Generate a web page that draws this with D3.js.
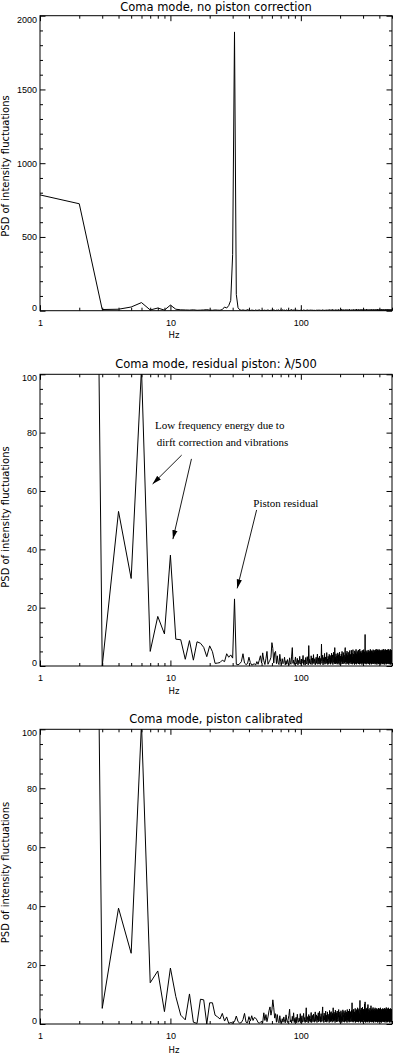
<!DOCTYPE html>
<html>
<head>
<meta charset="utf-8">
<script src="https://cdn.jsdelivr.net/npm/d3@7"></script>
<style>
  body { margin: 0; background: #fff; }
  svg { display: block; background: #fff; }
</style>
</head>
<body>
<svg id="chart" width="393" height="1053"></svg>
<script>
// PSD of intensity fluctuations, one value per 1 Hz bin (first value = 1 Hz)
const psdNoPiston = [
  785, 725, 8, 10, 25, 55, 5, 18, 4, 38,
  10, 6, 5, 4, 6, 3, 4, 5, 7, 4,
  3, 5, 4, 3, 8, 25, 18, 35, 70, 380,
  1890, 110, 20, 6, 3, 5, 3, 2, 8, 3,
  2, 4, 3, 1, 5, 2, 3, 6, 2, 1,
  3, 2, 4, 1, 3, 5, 2, 1, 4, 3,
  2, 6, 3, 1, 4, 2, 7, 3, 1, 5,
  2, 3, 8, 2, 4, 1, 3, 6, 2, 4,
  3, 1, 5, 2, 9, 3, 2, 4, 7, 2,
  1, 4, 3, 2, 6, 2, 3, 1, 5, 3,
  2, 4, 1, 3, 6, 2, 4, 3, 1, 5,
  3, 2, 7, 3, 1, 4, 2, 5, 3, 2,
  4, 1, 3, 6, 2, 4, 3, 2, 5, 1,
  3, 5, 2, 4, 1, 6, 3, 2, 4, 3,
  2, 5, 3, 1, 4, 7, 2, 3, 5, 2,
  4, 1, 3, 6, 2, 5, 3, 4, 2, 6,
  3, 2, 5, 4, 8, 3, 2, 6, 4, 3,
  5, 2, 4, 9, 3, 6, 2, 5, 4, 3,
  6, 2, 4, 3, 7, 2, 5, 4, 3, 6,
  2, 5, 3, 8, 4, 2, 6, 3, 5, 4,
  3, 6, 2, 5, 4, 10, 3, 5, 2, 6,
  4, 3, 7, 2, 5, 4, 3, 6, 2, 5,
  4, 8, 3, 5, 2, 6, 4, 3, 7, 2,
  5, 4, 3, 6, 2, 9, 4, 3, 5, 2,
  6, 3, 5, 4, 2, 7, 3, 5, 4, 6,
  2, 5, 3, 8, 4, 2, 6, 3, 5, 4,
  3, 7, 2, 5, 4, 6, 3, 11, 2, 5,
  4, 3, 6, 2, 5, 4, 8, 3, 6, 2,
  5, 4, 3, 7, 2, 5, 6, 3, 4, 9,
  3, 5, 2, 6, 4, 3, 7, 2, 5, 4,
  6, 3, 5, 2, 8, 4, 3, 6, 5, 2,
  4, 7, 3, 5, 2, 6, 4, 3, 10, 5,
  2, 6, 4, 3, 7, 5, 2, 4, 6, 3,
  5, 2, 8, 4, 3, 6, 5, 2, 4, 7,
  3, 5, 2, 6, 4, 3, 9, 5, 2, 4,
  6, 3, 5, 4, 2, 7, 3, 6, 4, 5,
  2, 8, 4, 3, 6, 5, 2, 4, 7, 3,
  5, 2, 6, 4, 3, 8, 5, 2, 4, 6,
  3, 7, 2, 5, 4, 6, 3, 10, 2, 5,
  4, 3, 6, 2, 7, 5, 3, 4, 6, 2,
  5, 4, 8, 3, 2, 6, 4, 5, 3, 7,
  2, 5, 4, 6, 3, 2, 9, 4, 5, 3,
  6, 2, 4, 7, 3, 5, 2, 6, 4, 3,
  8, 5, 2, 4, 6, 3, 5, 2, 7, 4,
  3, 6, 5, 2, 4, 8, 3, 5, 2, 6,
  4, 3, 7, 5, 2, 4, 6, 3, 9, 2,
  5, 4, 3, 6, 2, 7, 4, 5, 3, 6,
  2, 5, 8, 3, 4, 6, 2, 5, 3, 7,
  4, 2, 6, 5, 3, 4, 7, 2, 5, 3,
  6, 4, 2, 8, 3, 5, 4, 6, 2, 5
];

const psdResidual = [
  780, 720, 0, 53, 30, 102, 5, 17, 11, 38,
  9.2, 9, 2.3, 8.7, 2, 8.3, 7.8, 6.4, 3.2, 6.9,
  4.9, 0.9, 1, 1.2, 2, 1.5, 4.2, 3, 3.8, 2.7,
  23, 0.6, 0.4, 0.8, 1.5, 4.2, 1, 0.5, 0.8, 3,
  1.2, 0.3, 0.5, 0.8, 0.3, 1.5, 0.6, 2, 3.5, 1,
  4.5, 1.8, 0.5, 2.5, 5, 0.6, 1.4, 2, 3, 8,
  6, 1, 4.5, 5, 0.8, 3.5, 1, 0.5, 4, 1.5,
  0.5, 2.5, 0.8, 1.2, 3, 0.4, 1.8, 0.6, 2.2, 1,
  0.3, 2.8, 1.1, 0.6, 3.4, 6.3, 0.9, 2, 0.5, 1.6,
  3.1, 0.7, 1.3, 2.6, 0.4, 1.9, 0.8, 3.3, 1.2, 0.6,
  2.4, 0.9, 1.5, 3.6, 0.5, 2.1, 1.4, 0.3, 2.9, 1.1,
  0.7, 3.2, 1.6, 0.4, 7, 0.9, 2.3, 1.2, 0.6, 3.5,
  1.8, 0.5, 2.7, 1, 3.9, 0.8, 1.7, 2.5, 0.4, 1.3,
  3, 0.9, 2.2, 4.1, 0.6, 1.5, 2.8, 0.7, 3.4, 1.1,
  0.5, 2.6, 1.8, 7.5, 0.9, 2.1, 3.7, 0.4, 1.6, 2.9,
  1.2, 4.3, 0.6, 2, 3.1, 0.8, 1.7, 4.6, 1, 2.4,
  0.5, 3.3, 1.9, 0.7, 4, 2.2, 1.1, 3.6, 0.6, 2.8,
  1.4, 4.4, 0.9, 2.5, 3.8, 0.5, 1.9, 4.7, 1.3, 2.1,
  0.8, 6.3, 1.6, 3, 0.7, 4.2, 2.4, 1, 3.5, 0.6,
  2.7, 4.5, 1.2, 0.9, 3.9, 2, 0.5, 4.8, 1.7, 2.6,
  1.1, 3.4, 0.6, 4.1, 2.3, 1.5, 5, 0.8, 3.2, 1.9,
  0.7, 4.6, 2.5, 1.3, 3.7, 0.9, 2.2, 5.2, 6.3, 1.4,
  3.1, 0.6, 4.3, 2, 1.2, 5.1, 0.8, 3.6, 2.4, 1,
  4.7, 1.6, 0.5, 3.9, 2.7, 1.1, 5.3, 0.9, 2.1, 4,
  1.4, 3.3, 0.7, 5.4, 2.3, 1.2, 4.4, 0.6, 3, 2,
  5.6, 1.5, 0.9, 4.1, 2.6, 1, 3.8, 0.5, 5.2, 2.2,
  1.3, 4.6, 0.8, 3.1, 5.7, 1.7, 0.6, 4.2, 2.5, 1.1,
  5, 2.9, 0.9, 3.6, 1.4, 5.5, 0.7, 2.8, 4.4, 1.2,
  3.3, 0.6, 5.8, 2.1, 1, 4.7, 2.4, 0.8, 5.1, 1.6,
  3.9, 1.1, 4.5, 0.5, 2.7, 5.4, 1.3, 3.2, 0.9, 4.8,
  2, 1.2, 5.6, 0.7, 3.5, 2.3, 4.9, 1, 3, 1.5,
  10.8, 0.8, 4.2, 2.6, 1.1, 5.3, 0.6, 3.7, 2.1, 4.6,
  1.4, 5, 0.9, 3.1, 4.4, 1.2, 2.5, 5.5, 0.7, 3.6,
  2.2, 4.8, 1, 5.2, 1.6, 3, 0.5, 4.5, 2.7, 1.3,
  5.7, 0.9, 3.4, 2, 4.9, 1.1, 5.3, 0.6, 2.9, 4.1,
  1.5, 5.1, 0.8, 3.8, 2.4, 4.6, 1.2, 5.6, 0.7, 3.2,
  2.1, 4.4, 1.4, 5.4, 0.9, 3.5, 2.6, 5, 1, 4.2,
  0.6, 5.5, 2.3, 3.9, 1.3, 4.7, 0.8, 5.8, 2, 3.4,
  1.1, 5.2, 0.5, 4.3, 2.8, 1.6, 5.6, 0.9, 3.7, 2.2,
  4.9, 1.2, 5.3, 0.7, 3.1, 4.5, 1.5, 5.7, 0.6, 2.7,
  4, 1, 5.4, 2.4, 3.6, 0.8, 5, 1.7, 4.6, 0.5,
  3.3, 5.5, 1.3, 2.9, 4.8, 0.9, 5.1, 2.1, 3.8, 1.1,
  5.6, 0.7, 4.2, 2.5, 1.4, 5.3, 0.6, 3.5, 4.9, 1.2,
  2.8, 5.8, 0.8, 4.4, 1.9, 3.2, 5.2, 1, 4.1, 0.5,
  5.4, 2.3, 3.7, 1.3, 5.7, 0.9, 4.5, 2, 3, 5.1,
  1.1, 4.7, 0.6, 5.5, 2.6, 3.9, 1.4, 5, 0.8, 4.3,
  2.2, 5.6, 1.2, 3.4, 4.8, 0.7, 5.3, 1.8, 4, 2.7,
  0.9, 5.8, 1.5, 4.6, 3.1, 0.6, 5.2, 2.4, 3.6, 1,
  4.9, 0.8, 5.4, 2.1, 3.8, 1.3, 5.7, 0.5, 4.2, 2.9,
  1.6, 5.1, 0.7, 4.5, 3.3, 1.1, 5.5, 2, 3.9, 1.4
];

const psdCalibrated = [
  780, 720, 5.3, 39.3, 24, 102, 14, 18, 4.2, 19,
  9.3, 3, 1.4, 10.2, 0.6, 0.2, 8.4, 8.2, 0, 7.2,
  7.2, 3, 2.4, 1.7, 3.6, 1, 2.4, 0.2, 0.5, 0.3,
  0.8, 2.7, 0.8, 0.3, 0.5, 1.5, 3.6, 0.6, 0.4, 2.5,
  1, 2.8, 1.2, 2.2, 2, 1.4, 0.5, 0.3, 0.6, 0.9,
  0.4, 3.8, 1.2, 3.2, 0.8, 2.4, 4.5, 5.8, 3, 4.8,
  8.2, 5.5, 2, 3.5, 0.6, 3.2, 0.9, 0.4, 2.8, 0.7,
  0.3, 1.8, 0.6, 2.4, 0.9, 0.4, 3.1, 1.2, 0.5, 1.7,
  2.9, 5, 0.7, 1.4, 0.3, 2.6, 1, 3.8, 0.5, 1.9,
  0.8, 2.3, 0.4, 3.3, 1.1, 0.6, 2, 0.9, 3.5, 0.4,
  1.5, 2.8, 0.6, 1.2, 3.6, 0.8, 2.2, 0.5, 1.6, 5.5,
  0.7, 2.5, 1.3, 0.4, 3.2, 1, 2.7, 0.6, 1.8, 3.9,
  0.5, 1.4, 2.9, 0.8, 3.4, 1.2, 0.6, 2.4, 4.1, 0.9,
  1.7, 3.1, 0.5, 2.6, 1.3, 3.8, 0.7, 2, 4.3, 1,
  2.5, 0.6, 3.5, 1.5, 0.8, 4, 5.8, 1.1, 2.8, 0.5,
  3.7, 1.4, 2.2, 0.7, 4.4, 1, 3, 0.6, 2.4, 4.1,
  0.9, 3.3, 1.6, 2.6, 0.5, 4.6, 1.2, 3.9, 0.8, 2.1,
  4.2, 1, 2.9, 0.6, 3.6, 1.7, 5.5, 0.9, 2.4, 4,
  1.2, 3.4, 0.5, 4.7, 2, 1.1, 3.8, 0.7, 2.7, 4.4,
  1.5, 0.8, 3.6, 2.3, 4.9, 1, 2.8, 0.6, 4.1, 1.8,
  3.2, 0.9, 4.5, 1.4, 2.5, 0.5, 3.9, 2.1, 1.1, 4.8,
  0.7, 3, 2.4, 4.3, 1.2, 0.6, 3.7, 1.9, 4.6, 1,
  2.7, 0.8, 4.1, 1.5, 3.4, 0.5, 4.9, 2.2, 1.3, 3.6,
  0.9, 4.4, 1.8, 2.9, 0.6, 5.1, 1.1, 3.3, 2, 4.2,
  1.4, 0.7, 3.8, 2.5, 4.7, 1, 7.2, 0.8, 3.1, 1.9,
  4.5, 0.6, 2.8, 5, 1.2, 3.5, 0.9, 4.1, 2.3, 1.1,
  5.3, 0.5, 3.7, 1.6, 4.4, 2.6, 0.8, 4.9, 1.3, 3.2,
  0.7, 5.5, 2, 3.9, 1, 4.6, 0.6, 2.9, 5.2, 1.5,
  3.5, 0.9, 4.3, 8, 1.2, 3, 0.5, 4.8, 2.2, 1.1,
  5.4, 0.8, 3.6, 2.4, 4.5, 1, 5.7, 0.6, 3.1, 1.8,
  4.7, 1.3, 2.6, 5.1, 0.7, 3.9, 1.5, 6.8, 0.9, 2.4,
  7.5, 1.1, 3.4, 0.5, 4.9, 2.1, 1.4, 5.3, 0.8, 3.7,
  2.5, 4.4, 1, 5.6, 0.6, 3.2, 6.6, 1.2, 4, 2,
  0.9, 5, 1.7, 3.5, 0.5, 4.6, 2.3, 1.1, 5.4, 0.7,
  3.8, 2.6, 4.3, 1.3, 6.2, 0.8, 3, 1.9, 4.8, 0.6,
  2.9, 5.2, 1, 3.6, 4.5, 0.7, 2.2, 5.6, 1.4, 3.3,
  0.5, 4.7, 2.4, 1.2, 5.1, 0.9, 3.9, 2, 4.4, 1.6,
  5.5, 0.6, 3.2, 2.7, 4.9, 1.1, 3.5, 0.8, 4.2, 2.1,
  1.3, 5.3, 0.7, 3, 5, 1.5, 4.6, 0.5, 2.8, 3.7,
  1, 4.4, 2.3, 5.4, 0.8, 3.4, 1.8, 4.8, 0.6, 2.6,
  5.2, 1.2, 3.8, 0.9, 4.1, 2.5, 1.4, 5.5, 0.7, 3.1,
  2, 4.6, 1.1, 5, 0.5, 3.6, 2.8, 4.3, 1.3, 0.9,
  4.9, 2.2, 3.3, 1, 5.3, 0.7, 4, 1.7, 2.9, 4.5,
  0.8, 5.1, 1.5, 3.5, 2.4, 4.7, 0.6, 3.9, 1.2, 5.4,
  2.1, 0.9, 4.2, 1.6, 3.1, 5, 1, 2.7, 4.4, 0.5,
  3.4, 5.6, 1.3, 2.5, 4.1, 0.8, 3.7, 1.9, 4.8, 1.1,
  2.9, 5.2, 0.6, 3.9, 1.4, 4.6, 2.2, 0.9, 5.5, 1.7,
  3.2, 4.3, 1, 2.6, 5.1, 0.7, 3.5, 1.8, 4.9, 0.5,
  2.8, 4.5, 1.2, 3.6, 0.9, 5.3, 2, 1.4, 4, 3,
  0.6, 4.7, 1.6, 3.3, 2.4, 5, 0.8, 3.8, 1.1, 4.2
];

const panelTitles = [
  "Coma mode, no piston correction",
  "Coma mode, residual piston: \u03bb/500",
  "Coma mode, piston calibrated"
];
const xMajorTicks = [1, 10, 100];
const xMinorTicks = [2, 3, 4, 5, 6, 7, 8, 9, 20, 30, 40, 50, 60, 70, 80, 90, 200, 300, 400, 500];
const yMajorCoarse = [0, 500, 1000, 1500, 2000];
const yMajorFine = [0, 20, 40, 60, 80, 100];

// annotation text (middle panel), placed in Hz / PSD units
const noteTexts = [
  { text: "Low frequency energy due to", hz: 23.9, psd: 82.4 },
  { text: "dirft correction and vibrations", hz: 25.1, psd: 76.7 },
  { text: "Piston residual", hz: 76.7, psd: 55.8 }
];
const noteArrows = [
  { hz0: 12.2, psd0: 72.3, hz1: 7.3, psd1: 62.4 },
  { hz0: 14.5, psd0: 71, hz1: 10.45, psd1: 43.5 },
  { hz0: 45.8, psd0: 53.5, hz1: 32.5, psd1: 26.6 }
];

const svg = d3.select("#chart");
const left = 40, right = 392;
const sansFont = "'DejaVu Sans', sans-serif";
const tickFont = "'Liberation Sans', Arial, sans-serif";

svg.append("defs").append("marker")
    .attr("id", "arrowhead")
    .attr("viewBox", "0 -3 9 6")
    .attr("refX", 9)
    .attr("refY", 0)
    .attr("markerUnits", "userSpaceOnUse")
    .attr("markerWidth", 9)
    .attr("markerHeight", 6)
    .attr("orient", "auto")
  .append("path")
    .attr("d", "M0,-2.6L9,0L0,2.6Z")
    .attr("fill", "#000");

const panels = [
  { id: 0, data: psdNoPiston, top: 15.7, bottom: 310.7, ymax: 2000, major: yMajorCoarse, minorStep: 100,
    titleY: 10.5, hzY: 338, ylabelY: 166 },
  { id: 1, data: psdResidual, top: 374.3, bottom: 666, ymax: 100, major: yMajorFine, minorStep: 5,
    titleY: 368.3, hzY: 693.5, ylabelY: 517 },
  { id: 2, data: psdCalibrated, top: 729.3, bottom: 1024, ymax: 100, major: yMajorFine, minorStep: 5,
    titleY: 723, hzY: 1052.5, ylabelY: 872.5 }
];

panels.forEach(p => drawPanel(p));

function drawPanel(p) {
    const x = d3.scaleLog().domain([1, 500]).range([left, right]);
    const y = d3.scaleLinear().domain([0, p.ymax]).range([p.bottom, p.top]);
    const g = svg.append("g");
    const yMinor = d3.range(0, p.ymax + 1, p.minorStep).filter(v => !p.major.includes(v));

    // clip the trace to the plot box
    g.append("clipPath").attr("id", "clip" + p.id)
      .append("rect")
        .attr("x", left).attr("y", p.top)
        .attr("width", right - left).attr("height", p.bottom - p.top);

    const line = d3.line()
        .x(d => x(d[0]))
        .y(d => y(d[1]));

    g.append("path")
        .datum(p.data.map((v, i) => [i + 1, v]))
        .attr("clip-path", `url(#clip${p.id})`)
        .attr("fill", "none")
        .attr("stroke", "#000")
        .attr("stroke-width", 1)
        .attr("stroke-linejoin", "miter")
        .attr("d", line);

    // axes: ticks point inward on all four sides
    const bottomAxis = g.append("g").attr("transform", `translate(0,${p.bottom})`)
        .call(d3.axisBottom(x).tickValues(xMajorTicks).tickSize(-5.5).tickPadding(8.5).tickFormat(d3.format("d")));
    g.append("g").attr("transform", `translate(0,${p.bottom})`)
        .call(d3.axisBottom(x).tickValues(xMinorTicks).tickSize(-3).tickFormat(""));
    g.append("g").attr("transform", `translate(0,${p.top})`)
        .call(d3.axisTop(x).tickValues(xMajorTicks).tickSize(-5.5).tickFormat(""));
    g.append("g").attr("transform", `translate(0,${p.top})`)
        .call(d3.axisTop(x).tickValues(xMinorTicks).tickSize(-3).tickFormat(""));

    const leftAxis = g.append("g").attr("transform", `translate(${left},0)`)
        .call(d3.axisLeft(y).tickValues(p.major).tickSize(-5.5).tickPadding(3).tickFormat(d3.format("d")));
    g.append("g").attr("transform", `translate(${left},0)`)
        .call(d3.axisLeft(y).tickValues(yMinor).tickSize(-3).tickFormat(""));
    g.append("g").attr("transform", `translate(${right},0)`)
        .call(d3.axisRight(y).tickValues(p.major).tickSize(-5.5).tickFormat(""));
    g.append("g").attr("transform", `translate(${right},0)`)
        .call(d3.axisRight(y).tickValues(yMinor).tickSize(-3).tickFormat(""));

    g.selectAll(".domain").remove();
    g.selectAll(".tick line").attr("stroke", "#000").attr("stroke-width", 1);

    bottomAxis.selectAll("text")
        .attr("font-family", tickFont).attr("font-size", 9).attr("fill", "#000");
    leftAxis.selectAll("text")
        .attr("font-family", tickFont).attr("font-size", 9).attr("fill", "#000")
        // end labels sit just inside the box, like the original
        .attr("dy", d => d === p.ymax ? "0.7em" : d === 0 ? "-0.05em" : "0.32em");

    // frame
    g.append("rect")
        .attr("x", left).attr("y", p.top)
        .attr("width", right - left).attr("height", p.bottom - p.top)
        .attr("fill", "none")
        .attr("stroke", "#000")
        .attr("stroke-width", 1);

    g.append("text")
        .attr("x", (left + right) / 2).attr("y", p.titleY)
        .attr("text-anchor", "middle")
        .attr("font-family", sansFont).attr("font-size", 11.5)
        .text(panelTitles[p.id]);

    g.append("text")
        .attr("x", 174).attr("y", p.hzY)
        .attr("text-anchor", "middle")
        .attr("font-family", sansFont).attr("font-size", 8.5)
        .text("Hz");

    g.append("text")
        .attr("transform", `translate(9,${p.ylabelY}) rotate(-90)`)
        .attr("text-anchor", "middle")
        .attr("font-family", sansFont).attr("font-size", 10)
        .text("PSD of intensity fluctuations");

    if (p.id === 1) {
        g.selectAll(".note")
            .data(noteTexts)
            .enter().append("text")
            .attr("class", "note")
            .attr("x", d => x(d.hz))
            .attr("y", d => y(d.psd))
            .attr("dy", "0.33em")
            .attr("text-anchor", "middle")
            .attr("font-family", "'Liberation Serif', 'Times New Roman', serif")
            .attr("font-size", 11)
            .text(d => d.text);

        g.selectAll(".arrow")
            .data(noteArrows)
            .enter().append("line")
            .attr("class", "arrow")
            .attr("x1", d => x(d.hz0)).attr("y1", d => y(d.psd0))
            .attr("x2", d => x(d.hz1)).attr("y2", d => y(d.psd1))
            .attr("stroke", "#000")
            .attr("stroke-width", 0.9)
            .attr("marker-end", "url(#arrowhead)");
    }
}
</script>
</body>
</html>
